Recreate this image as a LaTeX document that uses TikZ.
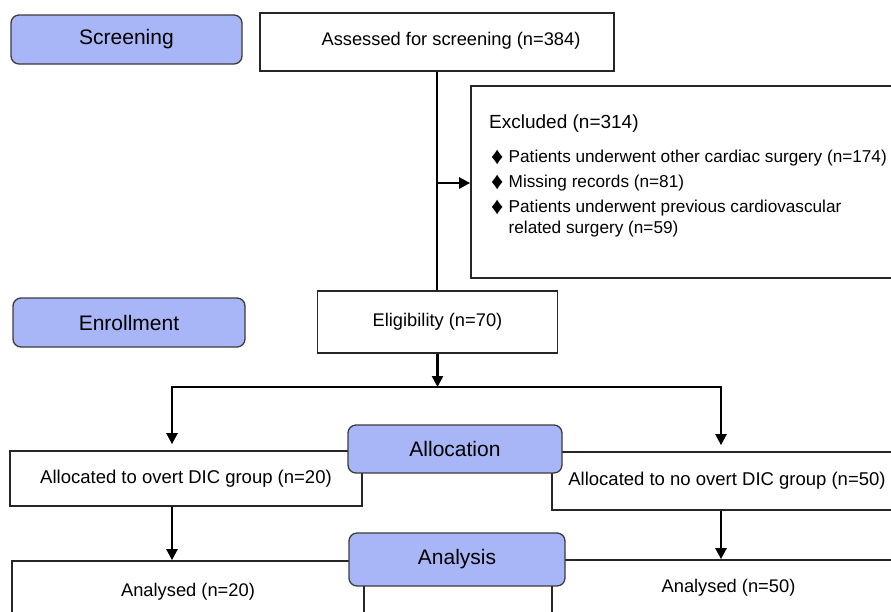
\documentclass[tikz,border=0pt]{standalone}
\usepackage{fontspec}
\setmainfont{Liberation Sans}
\usetikzlibrary{arrows.meta}
\definecolor{phase}{RGB}{168,181,246}
\definecolor{phaseborder}{RGB}{60,60,60}
\newcommand{\bul}{\makebox[17.5pt][l]{\raisebox{-1.2pt}{\scalebox{1.4}{♦}}}}
\begin{document}
\begin{tikzpicture}[x=1pt,y=-1pt,
  phasebox/.style={draw=phaseborder, line width=1.3pt, fill=phase, rounded corners=8pt,
    font=\fontsize{21}{25}\selectfont, inner sep=0pt},
  flowbox/.style={draw=black!85, line width=1.7pt, fill=white, inner sep=0pt,
    font=\fontsize{18.3}{22}\selectfont},
  plain/.style={inner sep=0pt},
  conn/.style={line width=2.4pt, black},
  tip/.tip={Triangle[length=11pt,width=11pt]},
  arr/.style={conn, -tip}]
\useasboundingbox (0,0) rectangle (891,611);
\clip (0,0) rectangle (891,611);
\fill[white] (0,0) rectangle (891,611);

% flow boxes
\node[flowbox, minimum width=354pt, minimum height=58pt] (assessed) at (437,42) {};
\node[plain, font=\fontsize{18.3}{22}\selectfont] (assessedtext) at (451,41) {Assessed for screening (n=384)};
\node[flowbox, minimum width=439pt, minimum height=192pt] (excluded) at (690.5,182) {};
\node[plain, anchor=west, font=\fontsize{19}{23}\selectfont] (exhead) at (489,124) {Excluded (n=314)};
\node[plain, anchor=west, font=\fontsize{17.2}{21}\selectfont] (ex1) at (491,158) {\bul Patients underwent other cardiac surgery (n=174)};
\node[plain, anchor=west, font=\fontsize{17.2}{21}\selectfont] (ex2) at (491,183) {\bul Missing records (n=81)};
\node[plain, anchor=west, align=left, font=\fontsize{17.2}{21}\selectfont] (ex3) at (491,218.5) {\bul Patients underwent previous cardiovascular\\\hspace*{17.5pt}related surgery (n=59)};
\node[flowbox, minimum width=240pt, minimum height=62pt] (eligibility) at (437.5,322) {Eligibility (n=70)};
\node[flowbox, minimum width=352pt, minimum height=55pt, font=\fontsize{18.5}{22}\selectfont] (allocL) at (186,478.5) {Allocated to overt DIC group (n=20)};
\node[flowbox, minimum width=350pt, minimum height=58pt, font=\fontsize{18.5}{22}\selectfont] (allocR) at (727,481) {Allocated to no overt DIC group (n=50)};
\node[flowbox, minimum width=352pt, minimum height=62pt] (analL) at (188,592) {Analysed (n=20)};
\node[flowbox, minimum width=353pt, minimum height=56pt] (analR) at (728.5,588) {Analysed (n=50)};

% connectors
\coordinate (branch) at (437,183);
\coordinate (split) at (437,387);
\coordinate (splitL) at (172,387);
\coordinate (splitR) at (721,387);
\draw[conn] (assessed.south) -- (assessed.south |- eligibility.north);
\draw[arr] (branch) -- (branch -| excluded.west);
\draw[arr] (eligibility.south) -- (eligibility.south |- split);
\draw[conn, tip-tip, shorten <=6pt, shorten >=6pt] (splitL |- allocL.north) -- (splitL) -- (splitR) -- (splitR |- allocR.north);
\draw[arr] (splitL |- allocL.south) -- (splitL |- analL.north);
\draw[arr] (splitR |- allocR.south) -- (splitR |- analR.north);

% phase labels
\node[phasebox, minimum width=231pt, minimum height=49pt] (screening) at (126.5,39.5) {Screening};
\node[phasebox, minimum width=232pt, minimum height=49pt] (enrollment) at (129,322.5) {Enrollment};
\node[phasebox, minimum width=214pt, minimum height=48pt] (allocation) at (455,449) {Allocation};
\node[phasebox, minimum width=216pt, minimum height=53pt] (analysis) at (457,559.5) {Analysis};
\end{tikzpicture}
\end{document}
